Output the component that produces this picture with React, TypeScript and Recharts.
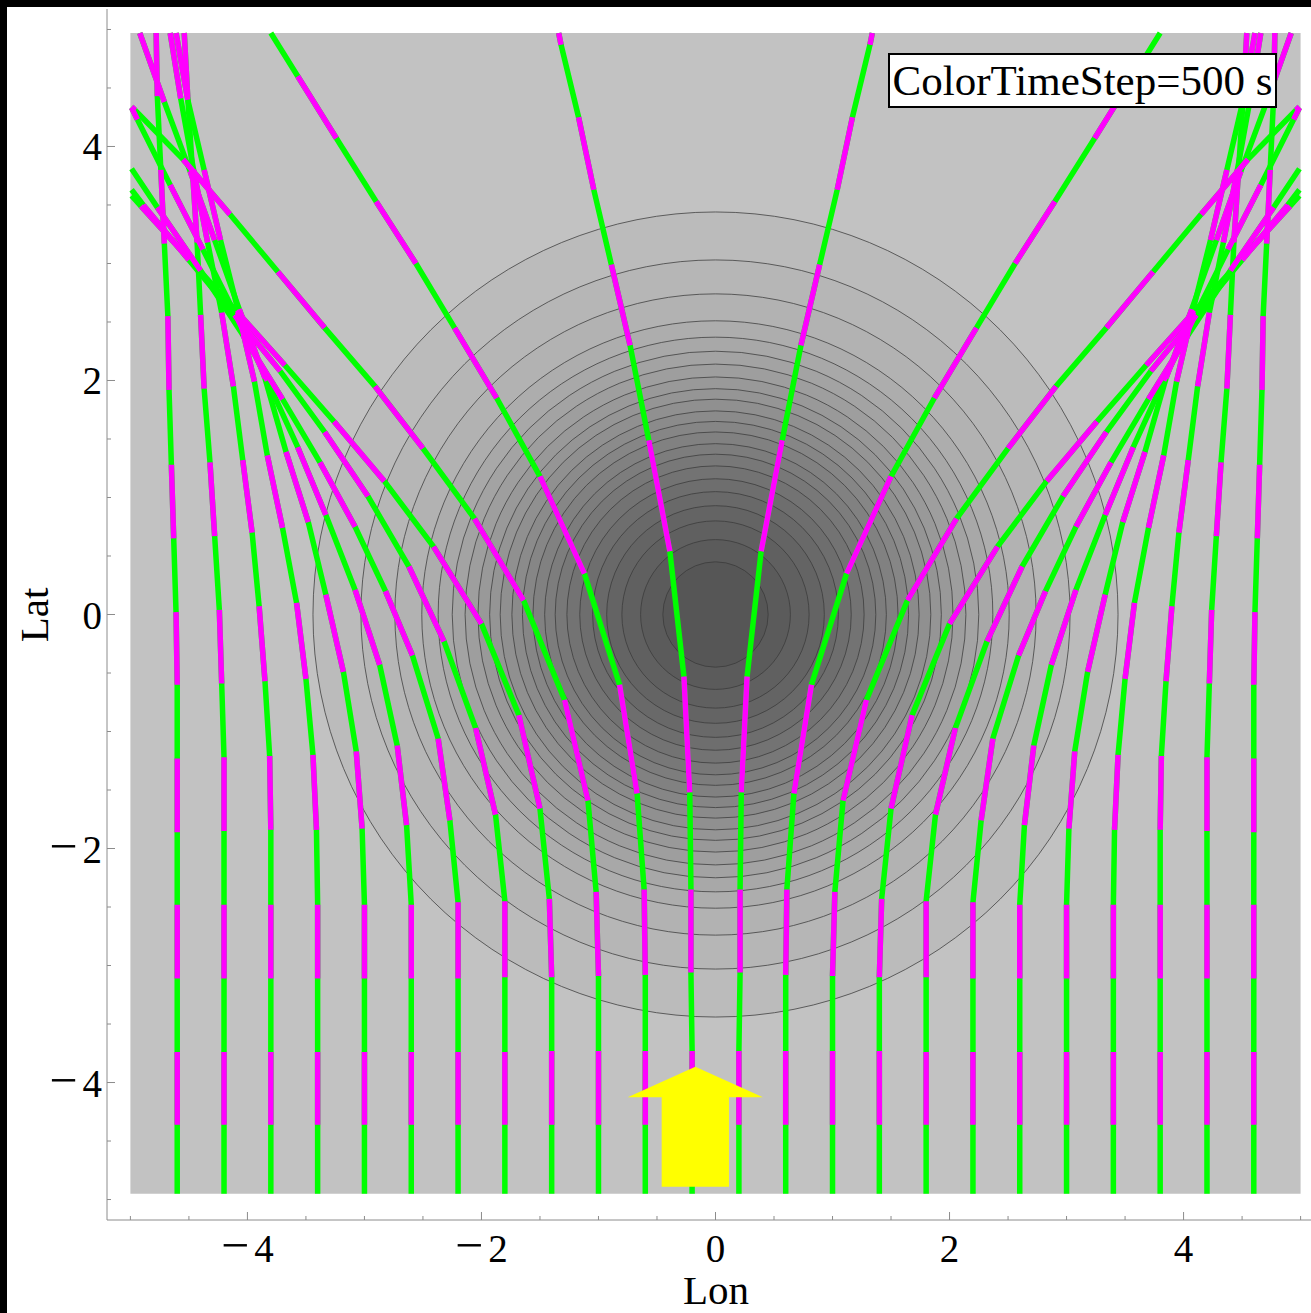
import React from 'react';
import { ComposedChart, Line, XAxis, YAxis, ReferenceArea, ReferenceDot } from 'recharts';

// axis ranges and tick values
const xDomain = [-5.2, 5.2];
const yDomain = [-5.175, 5.175];
const tickValues = [-5, -4.5, -4, -3.5, -3, -2.5, -2, -1.5, -1, -0.5, 0, 0.5, 1, 1.5, 2, 2.5, 3, 3.5, 4, 4.5, 5];

// radii of the contour circles around (0,0), outermost first
const contourRadii = [3.44, 3.03, 2.74, 2.51, 2.37, 2.25, 2.14, 2.03, 1.93, 1.84, 1.74, 1.65, 1.56, 1.46, 1.37, 1.27, 1.16, 1.05, 0.93, 0.8, 0.64, 0.45];

// ray positions at every 500 s step (lon, lat), left half
const rayL01 = [[-4.6,-4.95],[-4.6,-4.36],[-4.6,-3.74],[-4.6,-3.11],[-4.6,-2.48],[-4.6,-1.86],[-4.6,-1.23],[-4.6,-0.6],[-4.61,0.02],[-4.63,0.65],[-4.65,1.28],[-4.67,1.92],[-4.68,2.55],[-4.71,3.17],[-4.74,3.8],[-4.77,4.43],[-4.78,4.97]];
const rayL02 = [[-4.2,-4.95],[-4.2,-4.36],[-4.2,-3.74],[-4.2,-3.11],[-4.2,-2.48],[-4.2,-1.85],[-4.2,-1.22],[-4.22,-0.59],[-4.24,0.04],[-4.28,0.67],[-4.32,1.3],[-4.37,1.93],[-4.4,2.56],[-4.43,3.18],[-4.47,3.8],[-4.51,4.42],[-4.54,4.97]];
const rayL03 = [[-3.8,-4.95],[-3.8,-4.36],[-3.8,-3.74],[-3.8,-3.11],[-3.8,-2.48],[-3.8,-1.84],[-3.81,-1.21],[-3.85,-0.57],[-3.9,0.07],[-3.96,0.7],[-4.04,1.32],[-4.12,1.95],[-4.22,2.58],[-4.34,3.18],[-4.46,3.8],[-4.57,4.41],[-4.66,4.97]];
const rayL04 = [[-3.4,-4.95],[-3.4,-4.36],[-3.4,-3.74],[-3.4,-3.11],[-3.4,-2.48],[-3.41,-1.84],[-3.44,-1.2],[-3.5,-0.55],[-3.58,0.1],[-3.7,0.74],[-3.83,1.36],[-3.94,1.99],[-4.08,2.6],[-4.23,3.2],[-4.37,3.8],[-4.51,4.4],[-4.61,4.97]];
const rayL05 = [[-3,-4.95],[-3,-4.36],[-3,-3.74],[-3,-3.11],[-3,-2.48],[-3.02,-1.83],[-3.07,-1.17],[-3.18,-0.49],[-3.33,0.17],[-3.48,0.79],[-3.67,1.39],[-3.85,2.02],[-4.07,2.61],[-4.28,3.2],[-4.49,3.79],[-4.71,4.38],[-4.92,4.97]];
const rayL06 = [[-2.6,-4.95],[-2.6,-4.36],[-2.6,-3.74],[-2.6,-3.11],[-2.6,-2.48],[-2.64,-1.8],[-2.72,-1.12],[-2.87,-0.43],[-3.08,0.21],[-3.33,0.85],[-3.57,1.43],[-3.83,2],[-4.1,2.56],[-4.38,3.12],[-4.66,3.67],[-4.94,4.23],[-4.99,4.33]];
const rayL07 = [[-2.2,-4.95],[-2.2,-4.36],[-2.2,-3.74],[-2.2,-3.11],[-2.2,-2.46],[-2.27,-1.76],[-2.37,-1.06],[-2.59,-0.35],[-2.82,0.2],[-3.08,0.75],[-3.38,1.3],[-3.7,1.84],[-4.04,2.39],[-4.4,2.94],[-4.77,3.48],[-4.99,3.81]];
const rayL08 = [[-1.8,-4.95],[-1.8,-4.36],[-1.8,-3.74],[-1.8,-3.1],[-1.8,-2.45],[-1.88,-1.71],[-2.05,-0.97],[-2.32,-0.23],[-2.62,0.41],[-2.97,1.01],[-3.34,1.56],[-3.72,2.08],[-4.11,2.56],[-4.5,3.03],[-4.89,3.5],[-4.99,3.63]];
const rayL09 = [[-1.4,-4.95],[-1.4,-4.36],[-1.4,-3.73],[-1.4,-3.1],[-1.42,-2.43],[-1.5,-1.66],[-1.68,-0.86],[-2,-0.08],[-2.41,0.58],[-2.83,1.14],[-3.26,1.65],[-3.68,2.13],[-4.09,2.59],[-4.5,3.04],[-4.91,3.49],[-4.99,3.58]];
const rayL10 = [[-1,-4.95],[-1,-4.36],[-1,-3.73],[-1,-3.09],[-1.02,-2.37],[-1.09,-1.59],[-1.29,-0.73],[-1.64,0.12],[-2.06,0.82],[-2.5,1.42],[-2.91,1.95],[-3.34,2.45],[-3.74,2.93],[-4.15,3.42],[-4.55,3.89],[-4.96,4.31],[-4.99,4.34]];
const rayL11 = [[-0.6,-4.95],[-0.6,-4.36],[-0.6,-3.73],[-0.6,-3.08],[-0.61,-2.35],[-0.67,-1.53],[-0.82,-0.6],[-1.12,0.35],[-1.5,1.18],[-1.87,1.85],[-2.23,2.45],[-2.56,3],[-2.9,3.53],[-3.24,4.07],[-3.57,4.6],[-3.8,4.97]];
const rayL12 = [[-0.2,-4.95],[-0.2,-4.36],[-0.2,-3.73],[-0.21,-3.06],[-0.21,-2.35],[-0.22,-1.52],[-0.27,-0.53],[-0.39,0.54],[-0.57,1.49],[-0.73,2.3],[-0.89,2.99],[-1.04,3.63],[-1.17,4.25],[-1.32,4.87],[-1.34,4.97]];

// right half
const rayR01 = [[4.6,-4.95],[4.6,-4.36],[4.6,-3.74],[4.6,-3.11],[4.6,-2.48],[4.6,-1.86],[4.6,-1.23],[4.6,-0.6],[4.61,0.02],[4.63,0.65],[4.65,1.28],[4.67,1.92],[4.68,2.55],[4.71,3.17],[4.74,3.8],[4.77,4.43],[4.78,4.97]];
const rayR02 = [[4.2,-4.95],[4.2,-4.36],[4.2,-3.74],[4.2,-3.11],[4.2,-2.48],[4.2,-1.85],[4.2,-1.22],[4.22,-0.59],[4.24,0.04],[4.28,0.67],[4.32,1.3],[4.37,1.93],[4.4,2.56],[4.43,3.18],[4.47,3.8],[4.51,4.42],[4.54,4.97]];
const rayR03 = [[3.8,-4.95],[3.8,-4.36],[3.8,-3.74],[3.8,-3.11],[3.8,-2.48],[3.8,-1.84],[3.81,-1.21],[3.85,-0.57],[3.9,0.07],[3.96,0.7],[4.04,1.32],[4.12,1.95],[4.22,2.58],[4.34,3.18],[4.46,3.8],[4.57,4.41],[4.66,4.97]];
const rayR04 = [[3.4,-4.95],[3.4,-4.36],[3.4,-3.74],[3.4,-3.11],[3.4,-2.48],[3.41,-1.84],[3.44,-1.2],[3.5,-0.55],[3.58,0.1],[3.7,0.74],[3.83,1.36],[3.94,1.99],[4.08,2.6],[4.23,3.2],[4.37,3.8],[4.51,4.4],[4.61,4.97]];
const rayR05 = [[3,-4.95],[3,-4.36],[3,-3.74],[3,-3.11],[3,-2.48],[3.02,-1.83],[3.07,-1.17],[3.18,-0.49],[3.33,0.17],[3.48,0.79],[3.67,1.39],[3.85,2.02],[4.07,2.61],[4.28,3.2],[4.49,3.79],[4.71,4.38],[4.92,4.97]];
const rayR06 = [[2.6,-4.95],[2.6,-4.36],[2.6,-3.74],[2.6,-3.11],[2.6,-2.48],[2.64,-1.8],[2.72,-1.12],[2.87,-0.43],[3.08,0.21],[3.33,0.85],[3.57,1.43],[3.83,2],[4.1,2.56],[4.38,3.12],[4.66,3.67],[4.94,4.23],[4.99,4.33]];
const rayR07 = [[2.2,-4.95],[2.2,-4.36],[2.2,-3.74],[2.2,-3.11],[2.2,-2.46],[2.27,-1.76],[2.37,-1.06],[2.59,-0.35],[2.82,0.2],[3.08,0.75],[3.38,1.3],[3.7,1.84],[4.04,2.39],[4.4,2.94],[4.77,3.48],[4.99,3.81]];
const rayR08 = [[1.8,-4.95],[1.8,-4.36],[1.8,-3.74],[1.8,-3.1],[1.8,-2.45],[1.88,-1.71],[2.05,-0.97],[2.32,-0.23],[2.62,0.41],[2.97,1.01],[3.34,1.56],[3.72,2.08],[4.11,2.56],[4.5,3.03],[4.89,3.5],[4.99,3.63]];
const rayR09 = [[1.4,-4.95],[1.4,-4.36],[1.4,-3.73],[1.4,-3.1],[1.42,-2.43],[1.5,-1.66],[1.68,-0.86],[2,-0.08],[2.41,0.58],[2.83,1.14],[3.26,1.65],[3.68,2.13],[4.09,2.59],[4.5,3.04],[4.91,3.49],[4.99,3.58]];
const rayR10 = [[1,-4.95],[1,-4.36],[1,-3.73],[1,-3.09],[1.02,-2.37],[1.09,-1.59],[1.29,-0.73],[1.64,0.12],[2.06,0.82],[2.5,1.42],[2.91,1.95],[3.34,2.45],[3.74,2.93],[4.15,3.42],[4.55,3.89],[4.96,4.31],[4.99,4.34]];
const rayR11 = [[0.6,-4.95],[0.6,-4.36],[0.6,-3.73],[0.6,-3.08],[0.61,-2.35],[0.67,-1.53],[0.82,-0.6],[1.12,0.35],[1.5,1.18],[1.87,1.85],[2.23,2.45],[2.56,3],[2.9,3.53],[3.24,4.07],[3.57,4.6],[3.8,4.97]];
const rayR12 = [[0.2,-4.95],[0.2,-4.36],[0.2,-3.73],[0.21,-3.06],[0.21,-2.35],[0.22,-1.52],[0.27,-0.53],[0.39,0.54],[0.57,1.49],[0.73,2.3],[0.89,2.99],[1.04,3.63],[1.17,4.25],[1.32,4.87],[1.34,4.97]];

const rays = [
  rayL01, rayL02, rayL03, rayL04, rayL05, rayL06, rayL07, rayL08, rayL09, rayL10, rayL11, rayL12,
  rayR01, rayR02, rayR03, rayR04, rayR05, rayR06, rayR07, rayR08, rayR09, rayR10, rayR11, rayR12,
];

// arrow (lon/lat box of head and shaft)
const arrowShaft = { x1: -0.46, x2: 0.115, y1: -4.89, y2: -4.12 };
const arrowHead = { x1: -0.75, x2: 0.405, y1: -4.125, y2: -3.865 };

const W = 1324;
const H = 1313;
const LEFT = 107;
const TOP = 9;
const BOTTOM_AXIS = 93;
const pxPerUnit = (W - LEFT) / (xDomain[1] - xDomain[0]);

const FONT = '"Liberation Serif", "Times New Roman", serif';
const FRAME = '#8c8c8c';
const GREEN = '#00ff00';
const MAGENTA = '#ff00ff';

const isMajor = (v: number) => Math.abs(v % 2) < 1e-9;

const TickText = ({ v }: { v: number }) =>
  v < 0 ? (
    <>
      <tspan fontSize={50}>{'\u2212'}</tspan>
      <tspan dx={5}>{Math.abs(v)}</tspan>
    </>
  ) : (
    <>{v}</>
  );

const BottomTick = ({ x, y, payload }: any) => {
  const v = payload.value;
  const major = isMajor(v);
  return (
    <g>
      <line x1={x} x2={x} y1={y} y2={y - (major ? 8 : 4)} stroke={FRAME} />
      {major && (
        <text x={x} y={y + 42} textAnchor="middle" fontSize={39} fontFamily={FONT} fill="#000">
          <TickText v={v} />
        </text>
      )}
    </g>
  );
};

const TopTick = ({ x, y, payload }: any) => {
  const major = isMajor(payload.value);
  return <line x1={x} x2={x} y1={y} y2={y + (major ? 8 : 4)} stroke={FRAME} />;
};

const LeftTick = ({ x, y, payload }: any) => {
  const v = payload.value;
  const major = isMajor(v);
  return (
    <g>
      <line x1={x} x2={x + (major ? 8 : 4)} y1={y} y2={y} stroke={FRAME} />
      {major && (
        <text x={x - 5} y={y + 14} textAnchor="end" fontSize={39} fontFamily={FONT} fill="#000">
          <TickText v={v} />
        </text>
      )}
    </g>
  );
};

const ArrowHeadShape = (props: any) => {
  const { x, y, width, height } = props;
  return <polygon points={`${x},${y + height} ${x + width / 2},${y} ${x + width},${y + height}`} fill="#ffff00" />;
};

const shade = (i: number) => {
  const g = Math.round(192 - ((i + 1) * (192 - 86)) / contourRadii.length);
  return `rgb(${g},${g},${g})`;
};

const fullPath = (ray: number[][]) => ray.map(([x, y]) => ({ x, y }));

// odd 500 s steps, broken apart with empty points
const oddSteps = (ray: number[][]) => {
  const out: { x: number; y: number | null }[] = [];
  for (let k = 1; k + 1 < ray.length; k += 2) {
    out.push({ x: ray[k][0], y: ray[k][1] }, { x: ray[k + 1][0], y: ray[k + 1][1] }, { x: ray[k + 1][0], y: null });
  }
  return out;
};

export default function App() {
  return (
    <div style={{ position: 'absolute', left: 0, top: 0, width: 1311, height: 1313, overflow: 'hidden', background: '#000' }}>
      <div style={{ position: 'absolute', left: 7, top: 7, right: 0, bottom: 0, background: '#fff' }} />
      <div style={{ position: 'absolute', left: 0, top: 0 }}>
        <ComposedChart width={W} height={H} margin={{ top: TOP, right: 0, bottom: 0, left: 0 }}>
          <XAxis
            type="number"
            dataKey="x"
            domain={xDomain}
            ticks={tickValues}
            interval={0}
            allowDataOverflow
            height={BOTTOM_AXIS}
            tickSize={0}
            tickMargin={0}
            tickLine={false}
            axisLine={{ stroke: FRAME }}
            tick={<BottomTick />}
          />
          <XAxis
            xAxisId="top"
            orientation="top"
            type="number"
            domain={xDomain}
            ticks={tickValues}
            interval={0}
            allowDataOverflow
            height={0}
            tickSize={0}
            tickMargin={0}
            tickLine={false}
            axisLine={{ stroke: FRAME }}
            tick={<TopTick />}
          />
          <YAxis
            type="number"
            dataKey="y"
            domain={yDomain}
            ticks={tickValues}
            interval={0}
            allowDataOverflow
            width={LEFT}
            tickSize={0}
            tickMargin={0}
            tickLine={false}
            axisLine={{ stroke: FRAME }}
            tick={<LeftTick />}
          />
          <ReferenceArea x1={-5} x2={5} y1={-4.95} y2={4.97} fill="#c2c2c2" fillOpacity={1} stroke="none" ifOverflow="visible" zIndex={-300} />
          {contourRadii.map((r, i) => (
            <ReferenceDot
              key={`c${i}`}
              x={0}
              y={0}
              r={r * pxPerUnit}
              fill={shade(i)}
              fillOpacity={1}
              stroke="#3a3a3a"
              strokeOpacity={0.75}
              strokeWidth={1}
              ifOverflow="visible"
              zIndex={-200}
            />
          ))}
          {rays.map((ray, i) => (
            <Line
              key={`g${i}`}
              data={fullPath(ray)}
              dataKey="y"
              type="linear"
              stroke={GREEN}
              strokeWidth={5.5}
              dot={false}
              activeDot={false}
              isAnimationActive={false}
            />
          ))}
          {rays.map((ray, i) => (
            <Line
              key={`m${i}`}
              data={oddSteps(ray)}
              dataKey="y"
              type="linear"
              stroke={MAGENTA}
              strokeWidth={5.5}
              dot={false}
              activeDot={false}
              connectNulls={false}
              isAnimationActive={false}
            />
          ))}
          <ReferenceArea {...arrowShaft} fill="#ffff00" fillOpacity={1} stroke="none" zIndex={450} />
          <ReferenceArea {...arrowHead} fill="#ffff00" fillOpacity={1} stroke="none" zIndex={450} shape={<ArrowHeadShape />} />
        </ComposedChart>
      </div>
      <div
        style={{
          position: 'absolute',
          left: 888,
          top: 53,
          width: 389,
          height: 55,
          boxSizing: 'border-box',
          border: '2px solid #000',
          background: '#fff',
          fontFamily: FONT,
          fontSize: 43,
          lineHeight: '51px',
          textAlign: 'center',
          whiteSpace: 'nowrap',
        }}
      >
        ColorTimeStep=500 s
      </div>
      <div style={{ position: 'absolute', left: 616, top: 1270, width: 200, height: 40, lineHeight: '40px', textAlign: 'center', fontFamily: FONT, fontSize: 41 }}>
        Lon
      </div>
      <div
        style={{
          position: 'absolute',
          left: 34,
          top: 615,
          transform: 'translate(-50%, -50%) rotate(-90deg)',
          fontFamily: FONT,
          fontSize: 41,
          whiteSpace: 'nowrap',
        }}
      >
        Lat
      </div>
    </div>
  );
}
